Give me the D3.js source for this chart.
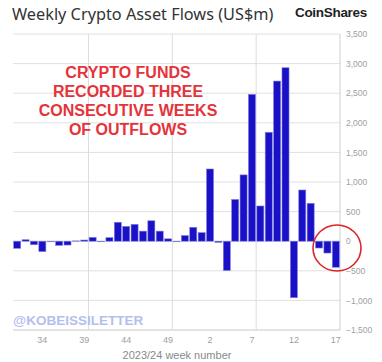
<!DOCTYPE html>
<html><head><meta charset="utf-8">
<script src="https://cdn.jsdelivr.net/npm/d3@7"></script>
<style>body{margin:0;background:#fff;}svg{display:block;font-family:"Liberation Sans",Arial,sans-serif;}</style>
</head><body>
<script>
const weeks = ["31","32","33","34","35","36","37","38","39","40","41","42","43","44","45","46","47","48","49","50","51","52",
  "1","2","3","4","5","6","7","8","9","10","11","12","13","14","15","16","17"];
const flows = [-120,25,-60,-175,-10,-70,-65,5,20,65,-10,60,320,250,285,170,345,170,40,-10,95,235,
  145,1220,-20,-495,705,1120,2480,595,1840,2705,2930,-955,865,640,-115,-200,-440];
const xTickLabels = ["34","39","44","49","2","7","12","17"];
const yTicks = [-1500,-1000,-500,0,500,1000,1500,2000,2500,3000,3500];
const annotationLines = ["CRYPTO FUNDS","RECORDED THREE","CONSECUTIVE WEEKS","OF OUTFLOWS"];

const W = 382, H = 362;
const svg = d3.select("body").append("svg").attr("width", W).attr("height", H);
const pLeft = 13, pRight = 340, pTop = 34, pBottom = 330;

const x = d3.scaleBand().domain(weeks).range([pLeft, pRight]).paddingInner(0.16).paddingOuter(0.08);
const y = d3.scaleLinear().domain([-1500, 3500]).range([pBottom, pTop]);

// horizontal gridlines
svg.append("g").selectAll("line").data(yTicks).join("line")
  .attr("x1", pLeft).attr("x2", pRight)
  .attr("y1", d => y(d)).attr("y2", d => y(d))
  .attr("stroke", d => d === -1500 ? "#c8c8c8" : "#e0e0e0").attr("stroke-width", 1);

// vertical gridlines every 10 categories
const step = x.step();
const vIdx = [9, 19, 29];
svg.append("g").selectAll("line").data(vIdx).join("line")
  .attr("x1", i => x(weeks[i]) - step * x.paddingInner() / 2)
  .attr("x2", i => x(weeks[i]) - step * x.paddingInner() / 2)
  .attr("y1", pTop).attr("y2", pBottom)
  .attr("stroke", "#dcdcdc").attr("stroke-width", 1);

// right axis line
svg.append("line").attr("x1", pRight).attr("x2", pRight).attr("y1", pTop).attr("y2", pBottom)
  .attr("stroke", "#cfcfcf").attr("stroke-width", 1);

// watermark
svg.append("text").attr("x", 13).attr("y", 325)
  .attr("font-size", 13.5).attr("font-weight", "bold").attr("fill", "#b3c0ee")
  .text("@KOBEISSILETTER");

// bars
svg.append("g").selectAll("rect").data(weeks).join("rect")
  .attr("x", d => x(d))
  .attr("width", x.bandwidth())
  .attr("y", (d, i) => y(Math.max(0, flows[i])))
  .attr("height", (d, i) => Math.abs(y(flows[i]) - y(0)))
  .attr("fill", "#1a10c8")
  .attr("stroke", "#8080d8").attr("stroke-width", 0.6);

// y axis labels (right)
const yAxis = d3.axisRight(y).tickValues(yTicks).tickSize(0).tickPadding(6)
  .tickFormat(d3.format(","));
const gy = svg.append("g").attr("transform", `translate(${pRight},0)`).call(yAxis);
gy.select(".domain").remove();
gy.selectAll("text").attr("fill", "#a0a0a0").attr("font-size", 8.5)
  .attr("font-family", "Liberation Sans, Arial, sans-serif");

// x axis labels
const xAxis = d3.axisBottom(x).tickValues(xTickLabels).tickSize(0).tickPadding(7);
const gx = svg.append("g").attr("transform", `translate(0,${pBottom})`).call(xAxis);
gx.select(".domain").remove();
gx.selectAll("text").attr("fill", "#a0a0a0").attr("font-size", 9)
  .attr("font-family", "Liberation Sans, Arial, sans-serif");

// x axis title
svg.append("text").attr("x", 177).attr("y", 359).attr("text-anchor", "middle")
  .attr("font-size", 11).attr("fill", "#8a8a8a").text("2023/24 week number");

// title
svg.append("text").attr("x", 12).attr("y", 20).attr("font-size", 16.3)
  .attr("font-family", "Noto Sans, Liberation Sans, sans-serif")
  .attr("fill", "#333").text("Weekly Crypto Asset Flows (US$m)");
svg.append("text").attr("x", 367).attr("y", 17).attr("text-anchor", "end")
  .attr("font-size", 13.5).attr("font-weight", "bold").attr("fill", "#222")
  .attr("letter-spacing", "-0.3").text("CoinShares");

// annotation
svg.append("g").selectAll("text").data(annotationLines).join("text")
  .attr("x", 128).attr("y", (d, i) => 78 + i * 19)
  .attr("text-anchor", "middle").attr("font-size", 16).attr("font-weight", "bold")
  .attr("fill", "#e5333b").text(d => d);

// red circle around last bars
svg.append("ellipse").attr("cx", 337).attr("cy", 248).attr("rx", 24).attr("ry", 23)
  .attr("fill", "none").attr("stroke", "#d9262b").attr("stroke-width", 1.6);
</script>
</body></html>
